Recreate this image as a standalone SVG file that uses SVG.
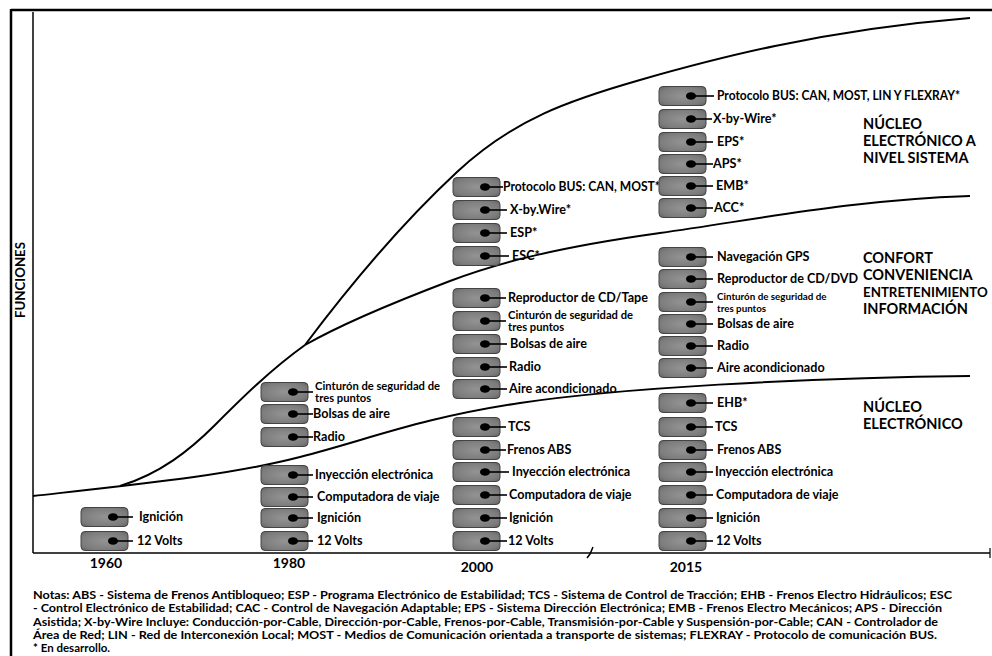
<svg xmlns="http://www.w3.org/2000/svg" xmlns:xlink="http://www.w3.org/1999/xlink" width="992" height="656" viewBox="0 0 992 656">
<defs>
<radialGradient id="g" cx="0.5" cy="0.5" r="0.7">
<stop offset="0" stop-color="#939393"/>
<stop offset="0.7" stop-color="#7c7c7c"/>
<stop offset="1" stop-color="#626262"/>
</radialGradient>
<g id="chip">
<rect x="0" y="-9.5" width="47" height="19" rx="4" fill="url(#g)" stroke="#444" stroke-width="1"/>
<ellipse cx="32" cy="0" rx="5" ry="3.8" fill="#000"/>
</g>
</defs>
<style>
text{font-family:Lato,"Liberation Sans",sans-serif;font-weight:bold;fill:#000}
.lbl{font-size:12.6px}
.sm{font-size:11.2px}
.xs{font-size:9.8px}
.region{font-size:14.5px}
.year{font-size:14px;text-anchor:middle}
.note{font-size:11.5px}
.lead{stroke:#000;stroke-width:1.6}
.curve{fill:none;stroke:#000;stroke-width:2}
.axis{stroke:#000;fill:none}
</style>
<rect width="992" height="656" fill="#fff"/>

<g id="frame">
<line class="axis" x1="11" y1="10" x2="992" y2="10" stroke-width="2.5"/>
<line class="axis" x1="11" y1="9" x2="11" y2="656" stroke-width="2.5"/>
<line class="axis" x1="33" y1="12" x2="33" y2="553" stroke-width="1.5"/>
<line class="axis" x1="33" y1="553" x2="990" y2="553" stroke-width="1.5"/>
<line class="axis" x1="990" y1="548" x2="990" y2="558" stroke-width="1.2"/>
<path class="axis" d="M587,558 L590,554 L593,547" stroke-width="1.5"/>
<text x="20" y="280" transform="rotate(-90 20 280)" text-anchor="middle" dominant-baseline="central" font-size="13" textLength="76" lengthAdjust="spacingAndGlyphs">FUNCIONES</text>
<text class="year" x="106" y="568">1960</text>
<text class="year" x="289" y="568">1980</text>
<text class="year" x="477" y="572">2000</text>
<text class="year" x="686" y="572">2015</text>
</g>

<g id="connectors">
<path class="curve" d="M33,496 C150,483 230,475 300,457 S420,418 520,403 S800,378 970,376"/>
<path class="curve" d="M120,486 C160,474 190,450 215,425 S270,370 305,345"/>
<path class="curve" d="M305,345 C340,325 400,300 450,281 S560,247 660,233 S850,200 970,196"/>
<path class="curve" d="M305,345 C350,285 400,225 457,172 S570,100 640,80 S820,30 970,18"/>
</g>

<!-- 1960 -->
<g id="n1960-ignicion" transform="translate(81,517)"><use xlink:href="#chip"/><line class="lead" x1="32" y1="0" x2="52" y2="0"/><text class="lbl" x="58" y="4">Ignición</text></g>
<g id="n1960-12v" transform="translate(81,541)"><use xlink:href="#chip"/><line class="lead" x1="32" y1="0" x2="52" y2="0"/><text class="lbl" x="56" y="4">12 Volts</text></g>

<!-- 1980 -->
<g id="n1980-cinturon" transform="translate(261,392)"><use xlink:href="#chip"/><line class="lead" x1="32" y1="0" x2="52" y2="0"/><text class="sm" x="54" y="-2">Cinturón de seguridad de</text><text class="sm" x="54" y="10">tres puntos</text></g>
<g id="n1980-bolsas" transform="translate(261,414)"><use xlink:href="#chip"/><line class="lead" x1="32" y1="0" x2="52" y2="0"/><text class="lbl" x="52" y="4">Bolsas de aire</text></g>
<g id="n1980-radio" transform="translate(261,437)"><use xlink:href="#chip"/><line class="lead" x1="32" y1="0" x2="52" y2="0"/><text class="lbl" x="52" y="4">Radio</text></g>
<g id="n1980-inyeccion" transform="translate(261,475)"><use xlink:href="#chip"/><line class="lead" x1="32" y1="0" x2="52" y2="0"/><text class="lbl" x="54" y="4">Inyección electrónica</text></g>
<g id="n1980-computadora" transform="translate(261,497)"><use xlink:href="#chip"/><line class="lead" x1="32" y1="0" x2="52" y2="0"/><text class="lbl" x="56" y="4">Computadora de viaje</text></g>
<g id="n1980-ignicion" transform="translate(261,518)"><use xlink:href="#chip"/><line class="lead" x1="32" y1="0" x2="52" y2="0"/><text class="lbl" x="56" y="4">Ignición</text></g>
<g id="n1980-12v" transform="translate(261,541)"><use xlink:href="#chip"/><line class="lead" x1="32" y1="0" x2="52" y2="0"/><text class="lbl" x="56" y="4">12 Volts</text></g>

<!-- 2000 -->
<g id="n2000-protocolo" transform="translate(453,187)"><use xlink:href="#chip"/><line class="lead" x1="32" y1="0" x2="50" y2="0"/><text class="lbl" x="50" y="4" textLength="157" lengthAdjust="spacingAndGlyphs">Protocolo BUS: CAN, MOST*</text></g>
<g id="n2000-xbywire" transform="translate(453,210)"><use xlink:href="#chip"/><line class="lead" x1="32" y1="0" x2="54" y2="0"/><text class="lbl" x="57" y="4">X-by.Wire*</text></g>
<g id="n2000-esp" transform="translate(453,233)"><use xlink:href="#chip"/><line class="lead" x1="32" y1="0" x2="54" y2="0"/><text class="lbl" x="57" y="4">ESP*</text></g>
<g id="n2000-esc" transform="translate(453,256)"><use xlink:href="#chip"/><line class="lead" x1="32" y1="0" x2="56" y2="0"/><text class="lbl" x="59" y="4">ESC*</text></g>
<g id="n2000-reproductor" transform="translate(453,298)"><use xlink:href="#chip"/><line class="lead" x1="32" y1="0" x2="53" y2="0"/><text class="lbl" x="55" y="4">Reproductor de CD/Tape</text></g>
<g id="n2000-cinturon" transform="translate(453,321)"><use xlink:href="#chip"/><line class="lead" x1="32" y1="0" x2="53" y2="0"/><text class="sm" x="55" y="-2">Cinturón de seguridad de</text><text class="sm" x="55" y="10">tres puntos</text></g>
<g id="n2000-bolsas" transform="translate(453,344)"><use xlink:href="#chip"/><line class="lead" x1="32" y1="0" x2="54" y2="0"/><text class="lbl" x="57" y="4">Bolsas de aire</text></g>
<g id="n2000-radio" transform="translate(453,367)"><use xlink:href="#chip"/><line class="lead" x1="32" y1="0" x2="54" y2="0"/><text class="lbl" x="56" y="4">Radio</text></g>
<g id="n2000-aire" transform="translate(453,389)"><use xlink:href="#chip"/><line class="lead" x1="32" y1="0" x2="54" y2="0"/><text class="lbl" x="56" y="4">Aire acondicionado</text></g>
<g id="n2000-tcs" transform="translate(453,427)"><use xlink:href="#chip"/><line class="lead" x1="32" y1="0" x2="53" y2="0"/><text class="lbl" x="55" y="4">TCS</text></g>
<g id="n2000-frenos" transform="translate(453,450)"><use xlink:href="#chip"/><line class="lead" x1="32" y1="0" x2="53" y2="0"/><text class="lbl" x="54" y="4">Frenos ABS</text></g>
<g id="n2000-inyeccion" transform="translate(453,472)"><use xlink:href="#chip"/><line class="lead" x1="32" y1="0" x2="56" y2="0"/><text class="lbl" x="59" y="4">Inyección electrónica</text></g>
<g id="n2000-computadora" transform="translate(453,495)"><use xlink:href="#chip"/><line class="lead" x1="32" y1="0" x2="54" y2="0"/><text class="lbl" x="56" y="4">Computadora de viaje</text></g>
<g id="n2000-ignicion" transform="translate(453,518)"><use xlink:href="#chip"/><line class="lead" x1="32" y1="0" x2="54" y2="0"/><text class="lbl" x="56" y="4">Ignición</text></g>
<g id="n2000-12v" transform="translate(453,541)"><use xlink:href="#chip"/><line class="lead" x1="32" y1="0" x2="54" y2="0"/><text class="lbl" x="55" y="4">12 Volts</text></g>

<!-- 2015 -->
<g id="n2015-protocolo" transform="translate(659,96)"><use xlink:href="#chip"/><line class="lead" x1="32" y1="0" x2="55" y2="0"/><text class="lbl" x="58" y="4" textLength="243" lengthAdjust="spacingAndGlyphs">Protocolo BUS: CAN, MOST, LIN Y FLEXRAY*</text></g>
<g id="n2015-xbywire" transform="translate(659,119)"><use xlink:href="#chip"/><line class="lead" x1="32" y1="0" x2="53" y2="0"/><text class="lbl" x="54" y="4">X-by-Wire*</text></g>
<g id="n2015-eps" transform="translate(659,142)"><use xlink:href="#chip"/><line class="lead" x1="32" y1="0" x2="54" y2="0"/><text class="lbl" x="58" y="4">EPS*</text></g>
<g id="n2015-aps" transform="translate(659,164)"><use xlink:href="#chip"/><line class="lead" x1="32" y1="0" x2="54" y2="0"/><text class="lbl" x="54" y="4">APS*</text></g>
<g id="n2015-emb" transform="translate(659,186)"><use xlink:href="#chip"/><line class="lead" x1="32" y1="0" x2="54" y2="0"/><text class="lbl" x="57" y="4">EMB*</text></g>
<g id="n2015-acc" transform="translate(659,208)"><use xlink:href="#chip"/><line class="lead" x1="32" y1="0" x2="54" y2="0"/><text class="lbl" x="55" y="4">ACC*</text></g>
<g id="n2015-gps" transform="translate(659,257)"><use xlink:href="#chip"/><line class="lead" x1="32" y1="0" x2="54" y2="0"/><text class="lbl" x="58" y="4">Navegación GPS</text></g>
<g id="n2015-reproductor" transform="translate(659,279)"><use xlink:href="#chip"/><line class="lead" x1="32" y1="0" x2="54" y2="0"/><text class="lbl" x="58" y="4">Reproductor de CD/DVD</text></g>
<g id="n2015-cinturon" transform="translate(659,302)"><use xlink:href="#chip"/><line class="lead" x1="32" y1="0" x2="54" y2="0"/><text class="xs" x="58" y="-2">Cinturón de seguridad de</text><text class="xs" x="58" y="9.5">tres puntos</text></g>
<g id="n2015-bolsas" transform="translate(659,324)"><use xlink:href="#chip"/><line class="lead" x1="32" y1="0" x2="54" y2="0"/><text class="lbl" x="58" y="4">Bolsas de aire</text></g>
<g id="n2015-radio" transform="translate(659,346)"><use xlink:href="#chip"/><line class="lead" x1="32" y1="0" x2="54" y2="0"/><text class="lbl" x="58" y="4">Radio</text></g>
<g id="n2015-aire" transform="translate(659,368)"><use xlink:href="#chip"/><line class="lead" x1="32" y1="0" x2="54" y2="0"/><text class="lbl" x="58" y="4">Aire acondicionado</text></g>
<g id="n2015-ehb" transform="translate(659,403)"><use xlink:href="#chip"/><line class="lead" x1="32" y1="0" x2="54" y2="0"/><text class="lbl" x="58" y="4">EHB*</text></g>
<g id="n2015-tcs" transform="translate(659,427)"><use xlink:href="#chip"/><line class="lead" x1="32" y1="0" x2="54" y2="0"/><text class="lbl" x="56" y="4">TCS</text></g>
<g id="n2015-frenos" transform="translate(659,450)"><use xlink:href="#chip"/><line class="lead" x1="32" y1="0" x2="54" y2="0"/><text class="lbl" x="58" y="4">Frenos ABS</text></g>
<g id="n2015-inyeccion" transform="translate(659,472)"><use xlink:href="#chip"/><line class="lead" x1="32" y1="0" x2="54" y2="0"/><text class="lbl" x="56" y="4">Inyección electrónica</text></g>
<g id="n2015-computadora" transform="translate(659,495)"><use xlink:href="#chip"/><line class="lead" x1="32" y1="0" x2="54" y2="0"/><text class="lbl" x="57" y="4">Computadora de viaje</text></g>
<g id="n2015-ignicion" transform="translate(659,518)"><use xlink:href="#chip"/><line class="lead" x1="32" y1="0" x2="54" y2="0"/><text class="lbl" x="57" y="4">Ignición</text></g>
<g id="n2015-12v" transform="translate(659,541)"><use xlink:href="#chip"/><line class="lead" x1="32" y1="0" x2="54" y2="0"/><text class="lbl" x="57" y="4">12 Volts</text></g>

<g id="zone-sistema">
<text class="region" x="863" y="129">NÚCLEO</text>
<text class="region" x="863" y="146">ELECTRÓNICO A</text>
<text class="region" x="863" y="163">NIVEL SISTEMA</text>
</g>
<g id="zone-confort">
<text class="region" x="863" y="263">CONFORT</text>
<text class="region" x="863" y="280">CONVENIENCIA</text>
<text class="region" x="863" y="297" style="font-size:13.3px">ENTRETENIMIENTO</text>
<text class="region" x="863" y="314">INFORMACIÓN</text>
</g>
<g id="zone-nucleo">
<text class="region" x="863" y="412">NÚCLEO</text>
<text class="region" x="863" y="429">ELECTRÓNICO</text>
</g>

<g id="notes">
<text class="note" x="33" y="599" textLength="919" lengthAdjust="spacingAndGlyphs">Notas: ABS - Sistema de Frenos Antibloqueo; ESP - Programa Electrónico de Estabilidad; TCS - Sistema de Control de Tracción; EHB - Frenos Electro Hidráulicos; ESC</text>
<text class="note" x="33" y="612" textLength="909" lengthAdjust="spacingAndGlyphs">- Control Electrónico de Estabilidad; CAC - Control de Navegación Adaptable; EPS - Sistema Dirección Electrónica; EMB - Frenos Electro Mecánicos; APS - Dirección</text>
<text class="note" x="33" y="625.5" textLength="905" lengthAdjust="spacingAndGlyphs">Asistida; X-by-Wire Incluye: Conducción-por-Cable, Dirección-por-Cable, Frenos-por-Cable, Transmisión-por-Cable y Suspensión-por-Cable; CAN - Controlador de</text>
<text class="note" x="33" y="639" textLength="904" lengthAdjust="spacingAndGlyphs">Área de Red; LIN - Red de Interconexión Local; MOST - Medios de Comunicación orientada a transporte de sistemas;  FLEXRAY - Protocolo de comunicación BUS.</text>
<text class="note" x="33" y="652">* En desarrollo.</text>
</g>
</svg>
